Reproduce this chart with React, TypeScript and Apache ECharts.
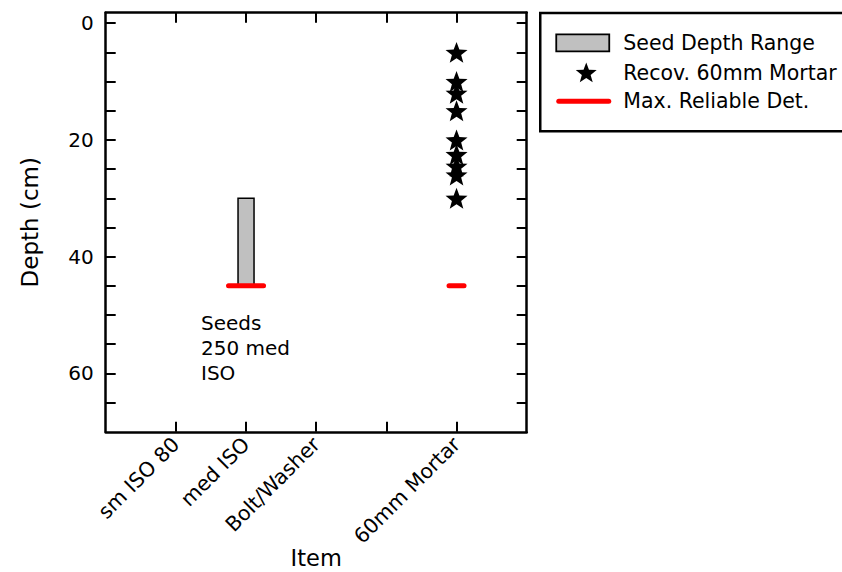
import React, { useEffect, useRef } from "react";
import * as echarts from "echarts";

// ---- data ----
const itemNames = ["sm ISO 80", "med ISO", "Bolt/Washer", "60mm Mortar"];
const itemSlots = [1, 2, 3, 5];
const xTickSlots = [1, 2, 3, 4, 5];
// [slot, shallow depth, deep depth]
const seedRange = [[2, 30, 45]];
const mortarSlot = 5;
const mortarDepths = [5, 10, 12, 15, 20, 22.5, 24.5, 26, 30];
// [slot, max reliable detection depth]
const reliableDet = [
  [2, 45],
  [5, 45],
];
const depthLabels = [0, 20, 40, 60];
const depthTicks = [0, 5, 10, 15, 20, 25, 30, 35, 40, 45, 50, 55, 60, 65];
const legendNames = ["Seed Depth Range", "Recov. 60mm Mortar", "Max. Reliable Det."];
const noteText = "Seeds\n250 med\nISO";

const FONT = "DejaVu Sans";

function starPoints(cx: number, cy: number, r: number, ratio = 0.42) {
  const pts: number[][] = [];
  const r0 = r * ratio;
  for (let i = 0; i < 10; i++) {
    const ang = -Math.PI / 2 + (i * Math.PI) / 5;
    const rr = i % 2 === 0 ? r : r0;
    pts.push([cx + rr * Math.cos(ang), cy + rr * Math.sin(ang)]);
  }
  return pts;
}

const starPath =
  "path://" +
  starPoints(50, 50, 50)
    .map((p, i) => (i === 0 ? "M" : "L") + p[0].toFixed(2) + " " + p[1].toFixed(2))
    .join(" ") +
  " Z";

export default function App() {
  const ref = useRef<HTMLDivElement>(null);
  useEffect(() => {
    if (!ref.current) return;
    const chart = echarts.init(ref.current, undefined, { renderer: "svg" });
    const axisLine = { show: true, onZero: false, lineStyle: { color: "#000", width: 2.5 } };
    const tickStyle = { color: "#000", width: 2 };
    const detHalf = [17.5, 7.5];
    chart.setOption({
      animation: false,
      backgroundColor: "#fff",
      grid: {
        left: 105.7,
        right: 315.3,
        top: 12.7,
        bottom: 140.2,
        containLabel: false,
        outerBoundsMode: "none",
      },
      xAxis: [
        {
          type: "value",
          min: 0,
          max: 6,
          position: "bottom",
          axisLine,
          axisTick: { show: true, inside: true, length: 10, lineStyle: tickStyle, customValues: xTickSlots },
          axisLabel: {
            customValues: itemSlots,
            formatter: (v: number) => {
              const i = itemSlots.indexOf(v);
              return i >= 0 ? itemNames[i] : "";
            },
            rotate: 45,
            margin: 9,
            fontSize: 20.5,
            fontFamily: FONT,
            color: "#000",
          },
          splitLine: { show: false },
          name: "Item",
          nameLocation: "middle",
          nameGap: 114.5,
          nameMoveOverlap: false,
          nameTextStyle: { fontSize: 22.5, fontFamily: FONT, color: "#000" },
        },
        {
          type: "value",
          min: 0,
          max: 6,
          position: "top",
          axisLine,
          axisTick: { show: true, inside: true, length: 10, lineStyle: tickStyle, customValues: xTickSlots },
          axisLabel: { show: false },
          splitLine: { show: false },
        },
      ],
      yAxis: [
        {
          type: "value",
          inverse: true,
          min: -1.8,
          max: 70,
          position: "left",
          axisLine,
          axisTick: { show: true, inside: true, length: 10, lineStyle: tickStyle, customValues: depthTicks },
          axisLabel: {
            customValues: depthLabels,
            margin: 12,
            fontSize: 20,
            fontFamily: FONT,
            color: "#000",
          },
          splitLine: { show: false },
          name: "Depth (cm)",
          nameLocation: "middle",
          nameGap: 64,
          nameMoveOverlap: false,
          nameTextStyle: { fontSize: 23, fontFamily: FONT, color: "#000" },
        },
        {
          type: "value",
          inverse: true,
          min: -1.8,
          max: 70,
          position: "right",
          axisLine,
          axisTick: { show: true, inside: true, length: 10, lineStyle: tickStyle, customValues: depthTicks },
          axisLabel: { show: false },
          splitLine: { show: false },
        },
      ],
      series: [
        {
          name: legendNames[0],
          type: "custom",
          xAxisIndex: 0,
          yAxisIndex: 0,
          encode: { x: 0, y: [1, 2] },
          data: seedRange,
          renderItem: (params: any, api: any) => {
            const x = api.value(0);
            const p1 = api.coord([x, api.value(1)]);
            const p2 = api.coord([x, api.value(2)]);
            const w = 16;
            return {
              type: "rect",
              shape: {
                x: p1[0] - w / 2,
                y: Math.min(p1[1], p2[1]),
                width: w,
                height: Math.abs(p2[1] - p1[1]),
              },
              style: { fill: "#c0c0c0", stroke: "#000", lineWidth: 1.5 },
            };
          },
        },
        {
          name: legendNames[2],
          type: "custom",
          xAxisIndex: 0,
          yAxisIndex: 0,
          encode: { x: 0, y: 1 },
          data: reliableDet,
          renderItem: (params: any, api: any) => {
            const p = api.coord([api.value(0), api.value(1)]);
            const h = detHalf[params.dataIndex] ?? 10;
            return {
              type: "line",
              shape: { x1: p[0] - h, y1: p[1], x2: p[0] + h, y2: p[1] },
              style: { stroke: "#ff0000", lineWidth: 5, lineCap: "round" },
            };
          },
        },
        {
          name: legendNames[1],
          type: "scatter",
          xAxisIndex: 0,
          yAxisIndex: 0,
          symbol: starPath,
          symbolSize: 22,
          symbolKeepAspect: true,
          itemStyle: { color: "#000", opacity: 1 },
          data: mortarDepths.map((d) => [mortarSlot, d]),
        },
      ],
      graphic: [
        {
          type: "text",
          left: 201,
          top: 310.5,
          style: {
            text: noteText,
            fontSize: 20,
            fontFamily: FONT,
            lineHeight: 25,
            fill: "#000",
          },
        },
        {
          type: "group",
          left: 539,
          top: 11.7,
          children: [
            {
              type: "rect",
              shape: { x: 0, y: 0, width: 320, height: 118.3 },
              style: { fill: "#fff", stroke: "#000", lineWidth: 2.5 },
            },
            {
              type: "rect",
              shape: { x: 16, y: 21.5, width: 53, height: 17 },
              style: { fill: "#c0c0c0", stroke: "#000", lineWidth: 1.8 },
            },
            {
              type: "polygon",
              shape: { points: starPoints(46, 60.5, 11) },
              style: { fill: "#000" },
            },
            {
              type: "line",
              shape: { x1: 18.5, y1: 88.3, x2: 68.5, y2: 88.3 },
              style: { stroke: "#ff0000", lineWidth: 5, lineCap: "round" },
            },
            {
              type: "text",
              x: 83,
              y: 30,
              style: { text: legendNames[0], fontSize: 20.5, fontFamily: FONT, fill: "#000", verticalAlign: "middle" },
            },
            {
              type: "text",
              x: 83,
              y: 60,
              style: { text: legendNames[1], fontSize: 20.5, fontFamily: FONT, fill: "#000", verticalAlign: "middle" },
            },
            {
              type: "text",
              x: 83,
              y: 88.3,
              style: { text: legendNames[2], fontSize: 20.5, fontFamily: FONT, fill: "#000", verticalAlign: "middle" },
            },
          ],
        },
      ],
    });
    return () => chart.dispose();
  }, []);
  return (
    <div
      ref={ref}
      style={{ position: "absolute", left: 0, top: 0, width: 842, height: 572, background: "#fff" }}
    />
  );
}
